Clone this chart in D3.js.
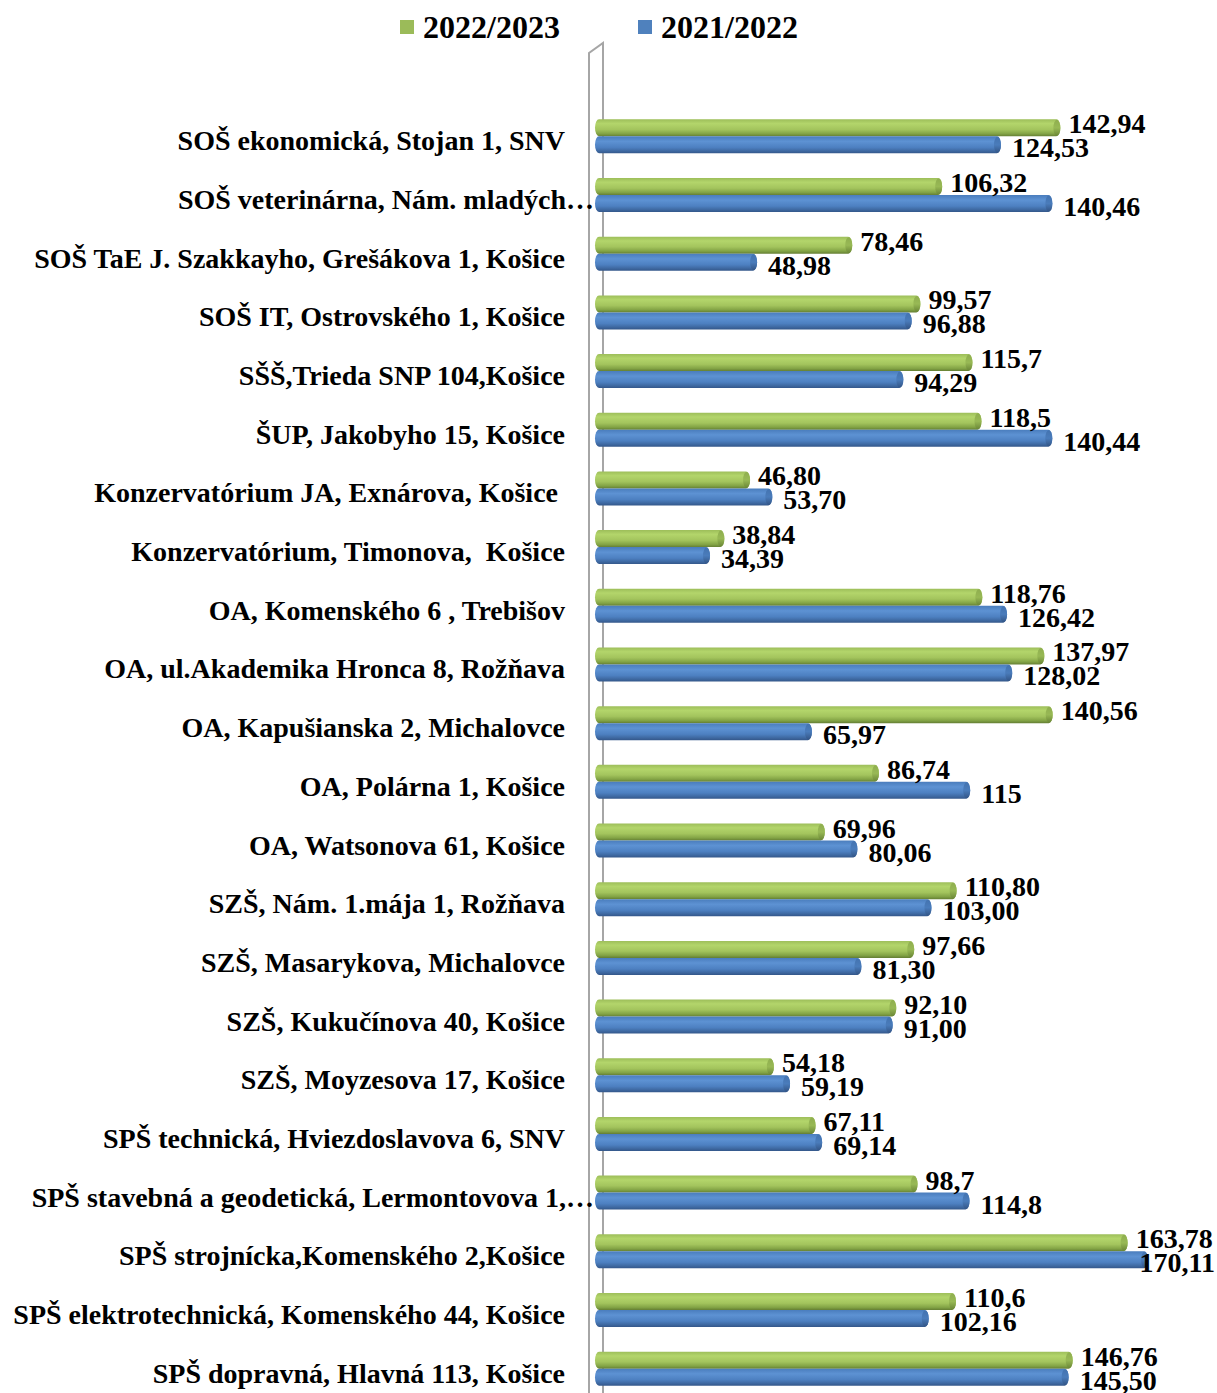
<!DOCTYPE html>
<html><head><meta charset="utf-8">
<script src="https://cdn.jsdelivr.net/npm/d3@7"></script>
<style>
html,body{margin:0;padding:0;background:#fff;}
text{font-family:"Liberation Serif","Times New Roman",serif;font-weight:bold;fill:#000;}
</style></head>
<body>
<svg id="chart" width="1217" height="1393" font-family="Liberation Serif, Times New Roman, serif"></svg>
<script>
const categories = [
  "SOŠ ekonomická, Stojan 1, SNV",
  "SOŠ veterinárna, Nám. mladých…",
  "SOŠ TaE J. Szakkayho, Grešákova 1, Košice",
  "SOŠ IT, Ostrovského 1, Košice",
  "SŠŠ,Trieda SNP 104,Košice",
  "ŠUP, Jakobyho 15, Košice",
  "Konzervatórium JA, Exnárova, Košice ",
  "Konzervatórium, Timonova,  Košice",
  "OA, Komenského 6 , Trebišov",
  "OA, ul.Akademika Hronca 8, Rožňava",
  "OA, Kapušianska 2, Michalovce",
  "OA, Polárna 1, Košice",
  "OA, Watsonova 61, Košice",
  "SZŠ, Nám. 1.mája 1, Rožňava",
  "SZŠ, Masarykova, Michalovce",
  "SZŠ, Kukučínova 40, Košice",
  "SZŠ, Moyzesova 17, Košice",
  "SPŠ technická, Hviezdoslavova 6, SNV",
  "SPŠ stavebná a geodetická, Lermontovova 1,…",
  "SPŠ strojnícka,Komenského 2,Košice",
  "SPŠ elektrotechnická, Komenského 44, Košice",
  "SPŠ dopravná, Hlavná 113, Košice"
];
const seriesNames = ["2022/2023", "2021/2022"];
const values2023 = [142.94,106.32,78.46,99.57,115.7,118.5,46.80,38.84,118.76,137.97,140.56,86.74,69.96,110.80,97.66,92.10,54.18,67.11,98.7,163.78,110.6,146.76];
const values2022 = [124.53,140.46,48.98,96.88,94.29,140.44,53.70,34.39,126.42,128.02,65.97,115,80.06,103.00,81.30,91.00,59.19,69.14,114.8,170.11,102.16,145.50];
const labels2023 = ["142,94","106,32","78,46","99,57","115,7","118,5","46,80","38,84","118,76","137,97","140,56","86,74","69,96","110,80","97,66","92,10","54,18","67,11","98,7","163,78","110,6","146,76"];
const labels2022 = ["124,53","140,46","48,98","96,88","94,29","140,44","53,70","34,39","126,42","128,02","65,97","115","80,06","103,00","81,30","91,00","59,19","69,14","114,8","170,11","102,16","145,50"];

const W = 1217;
const svg = d3.select("#chart");
const defs = svg.append("defs");
function grad(id, stops){
  const g = defs.append("linearGradient").attr("id", id).attr("x1",0).attr("y1",0).attr("x2",0).attr("y2",1);
  stops.forEach(s => g.append("stop").attr("offset", s[0]).attr("stop-color", s[1]));
}
grad("gGreen", [[0,"#9dbe5a"],[0.25,"#b3d56b"],[0.6,"#a3c45d"],[0.85,"#82a345"],[1,"#647e33"]]);
grad("gBlue", [[0,"#4a7dbd"],[0.3,"#5d92d3"],[0.65,"#4d80c1"],[0.85,"#3f6aa3"],[1,"#34578a"]]);
grad("gGreenCap", [[0,"#8fae4f"],[0.5,"#98b955"],[1,"#6a8636"]]);
grad("gBlueCap", [[0,"#4373b0"],[0.5,"#4a7cbb"],[1,"#335586"]]);

const x = d3.scaleLinear().domain([0, 180]).range([599, 1180]);
const y = d3.scaleBand().domain(categories).range([107, 1398]).padding(0);
const barH = 17;
const fs = 28;

// 3D wall
const wallL = 589, wallR = 603;
svg.append("path")
  .attr("d", `M${wallL},1393 L${wallL},53 L${wallR},43 L${wallR},1393`)
  .attr("fill","none").attr("stroke","#a6a6a6").attr("stroke-width",2);

// legend
const leg = svg.append("g");
const legItems = [{name: seriesNames[0], fill:"#9bbb59", x:400}, {name: seriesNames[1], fill:"#4f81bd", x:638}];
legItems.forEach(d => {
  leg.append("rect").attr("x", d.x).attr("y", 20).attr("width", 14).attr("height", 14).attr("fill", d.fill);
  leg.append("text").attr("x", d.x + 23).attr("y", 38).attr("font-size", 32).text(d.name);
});

// category labels
svg.append("g").selectAll("text").data(categories).join("text")
  .attr("x", d => d.endsWith("…") ? 594 : 565)
  .attr("y", d => y(d) + y.bandwidth()/2 + 14)
  .attr("text-anchor", "end")
  .attr("font-size", fs)
  .style("white-space", "pre")
  .text(d => d);

function drawSeries(vals, labs, fillId, capId, off){
  const g = svg.append("g");
  const rows = categories.map((c, i) => ({c, v: vals[i], l: labs[i]}));
  g.selectAll("rect").data(rows).join("rect")
    .attr("x", x(0) - 4)
    .attr("y", d => y(d.c) + y.bandwidth()/2 + off)
    .attr("width", d => x(d.v) - x(0) + 4)
    .attr("height", barH)
    .attr("rx", 4).attr("ry", barH/2)
    .attr("fill", `url(#${fillId})`);
  g.selectAll("ellipse").data(rows).join("ellipse")
    .attr("cx", d => x(d.v) - 3.5)
    .attr("cy", d => y(d.c) + y.bandwidth()/2 + off + barH/2)
    .attr("rx", 3.5).attr("ry", barH/2 - 0.5)
    .attr("fill", `url(#${capId})`);
  return rows;
}
const rowsG = drawSeries(values2023, labels2023, "gGreen", "gGreenCap", -barH);
const rowsB = drawSeries(values2022, labels2022, "gBlue", "gBlueCap", 0);

// value labels (kept inside the chart area like the original)
function valueLabels(rows, dx, dy){
  svg.append("g").selectAll("text").data(rows).join("text")
    .attr("y", d => y(d.c) + y.bandwidth()/2 + dy)
    .attr("font-size", fs)
    .text(d => d.l)
    .attr("x", function(d){
      const w = this.getComputedTextLength();
      return Math.min(x(d.v) + dx, W - 2 - w);
    });
}
valueLabels(rowsG, 8, -3);
valueLabels(rowsB, 11, 21);
</script>
</body></html>
